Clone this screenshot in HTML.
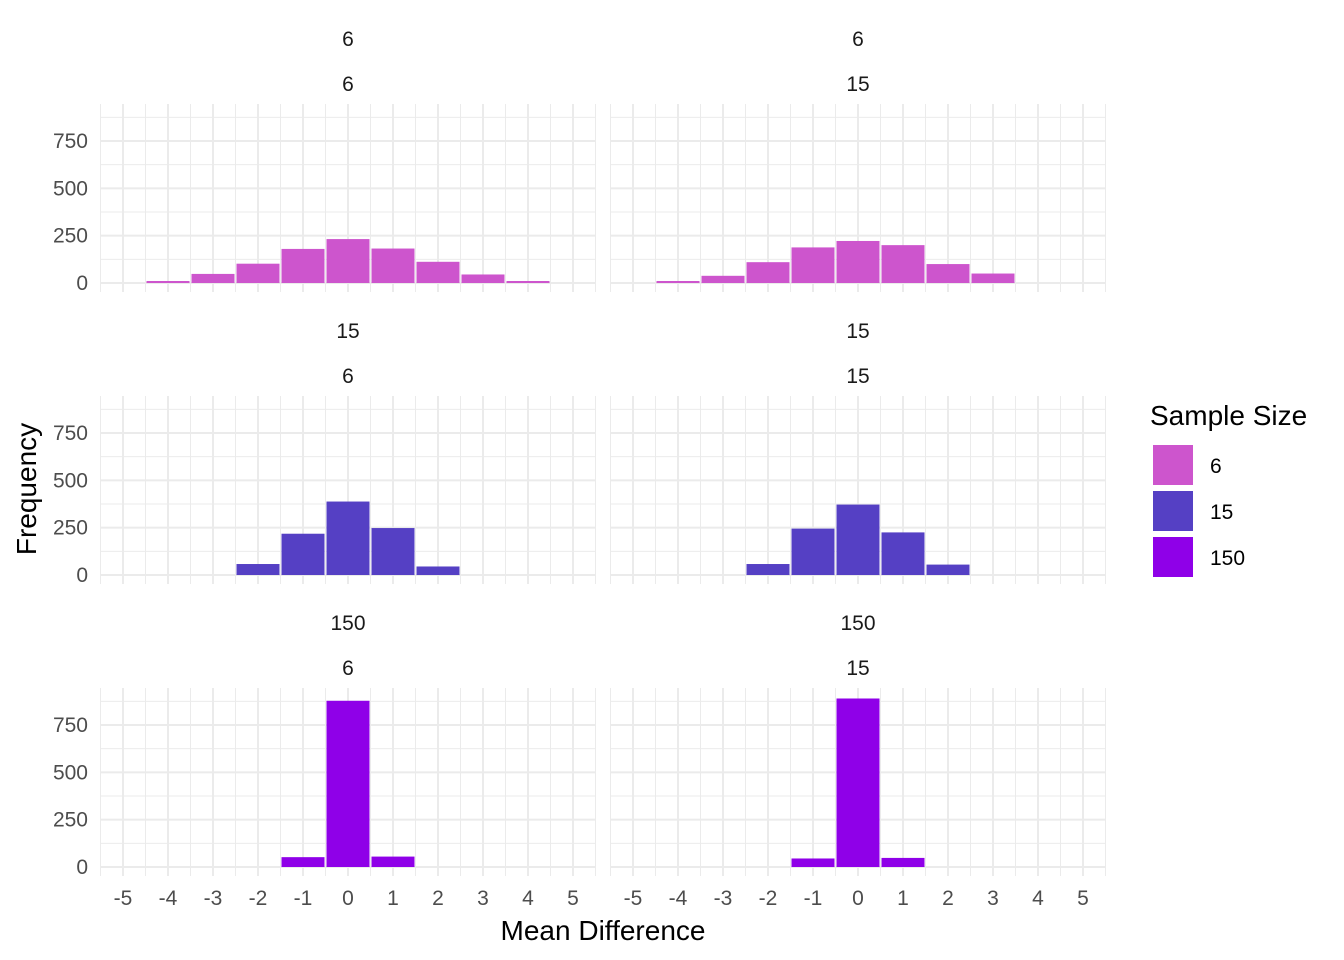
<!DOCTYPE html>
<html><head><meta charset="utf-8"><style>
body{margin:0;background:#fff;}
svg{display:block;font-family:"Liberation Sans",Arial,sans-serif;}
</style></head><body>
<svg id="c" width="1344" height="960"></svg>
<script>
const xTicks=[-5,-4,-3,-2,-1,0,1,2,3,4,5];
const yTicks=[0,250,500,750];
const rowLabels=["6","15","150"];
const colLabels=["6","15"];
const colors=["#CD55CD","#5540C4","#8F00E8"];
const xs0=[-4,-3,-2,-1,0,1,2,3,4];
const v00=[10,48,102,180,232,182,112,45,10];
const xs1=[-4,-3,-2,-1,0,1,2,3];
const v01=[8,38,110,188,222,200,100,50];
const xs2=[-2,-1,0,1,2];
const v10=[58,218,388,248,45];
const v11=[58,245,372,225,55];
const xs3=[-1,0,1];
const v20=[52,878,55];
const v21=[45,890,48];
const panelsX=[[xs0,v00],[xs1,v01],[xs2,v10],[xs2,v11],[xs3,v20],[xs3,v21]];
const NS="http://www.w3.org/2000/svg";
const svg=document.getElementById('c');
function el(t,a,p){const e=document.createElementNS(NS,t);for(const k in a)e.setAttribute(k,a[k]);(p||svg).appendChild(e);return e;}
const colX=[101,611], rowY0=[283,575,867];
const sx=45, sy=142/750;
function X(c,v){return colX[c]+22+(v+5)*sx;}
function Y(r,v){return rowY0[r]-v*sy;}
for(let r=0;r<3;r++)for(let c=0;c<2;c++){
  const g=el('g',{});
  
  
  const top=rowY0[r]-179,bot=rowY0[r]+9,l=colX[c],rr=colX[c]+495;
  for(let v=-125;v<=875;v+=250){const y=Y(r,v);if(y>top&&y<bot)el('line',{x1:l,x2:rr,y1:y,y2:y,stroke:'#ebebeb','stroke-width':1},g);}
  yTicks.forEach(v=>el('line',{x1:l,x2:rr,y1:Y(r,v),y2:Y(r,v),stroke:'#ebebeb','stroke-width':2},g));
  for(let v=-5.5;v<=5.5;v+=1)el('line',{x1:X(c,v),x2:X(c,v),y1:top,y2:bot,stroke:'#ebebeb','stroke-width':1},g);
  xTicks.forEach(v=>el('line',{x1:X(c,v),x2:X(c,v),y1:top,y2:bot,stroke:'#ebebeb','stroke-width':2},g));
  const [xs,vs]=panelsX[r*2+c];
  xs.forEach((x,i)=>{const h=Math.max(vs[i]*sy,2);
    const b=el('rect',{x:X(c,x-0.5)+1,y:rowY0[r]-h,width:sx-2,height:h,fill:colors[r]},g);
    });
  const t1=el('text',{x:l+247,y:top-58,'text-anchor':'middle','font-size':21,fill:'#1a1a1a'},g);t1.textContent=rowLabels[r];
  
  const t2=el('text',{x:l+247,y:top-13,'text-anchor':'middle','font-size':21,fill:'#1a1a1a'},g);t2.textContent=colLabels[c];
  
  if(c==0)yTicks.forEach(v=>{const t=el('text',{x:88,y:Y(r,v)+7,'text-anchor':'end','font-size':21,fill:'#4d4d4d'},g);t.textContent=v;
    });
  if(r==2)xTicks.forEach(v=>{const t=el('text',{x:X(c,v),y:905,'text-anchor':'middle','font-size':21,fill:'#4d4d4d'},g);t.textContent=v;
    });
}
const xt=el('text',{x:603,y:940,'text-anchor':'middle','font-size':28,fill:'#000'});xt.textContent='Mean Difference';

const yt=el('text',{x:36,y:489,'text-anchor':'middle','font-size':28,fill:'#000',transform:'rotate(-90 36 489)'});yt.textContent='Frequency';

const lt=el('text',{x:1150,y:425,'font-size':28,fill:'#000'});lt.textContent='Sample Size';

rowLabels.forEach((s,i)=>{const y=445+i*46;
  const k=el('rect',{x:1153,y:y,width:40,height:40,fill:colors[i]});
  
  const t=el('text',{x:1210,y:y+28,'font-size':21,fill:'#000'});t.textContent=s;
  });
</script>
</body></html>
